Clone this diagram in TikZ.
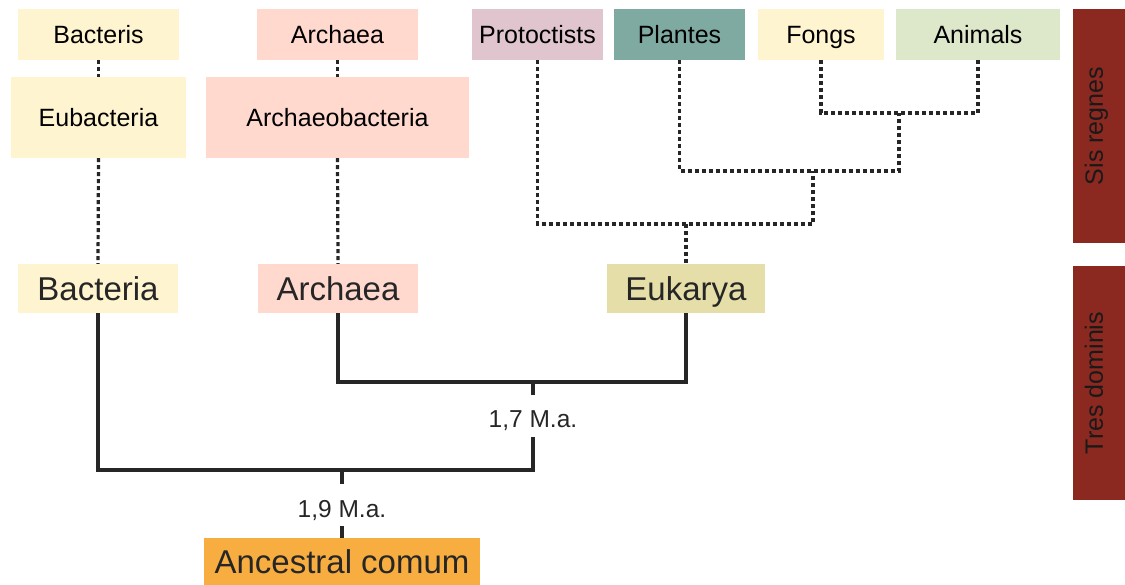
\documentclass[tikz,border=0pt]{standalone}
\usepackage{fontspec}
\setmainfont{Liberation Sans}
\usetikzlibrary{positioning}

\definecolor{bactcol}{HTML}{FFF4D0}
\definecolor{archcol}{HTML}{FFD8CE}
\definecolor{protcol}{HTML}{E0C5CE}
\definecolor{plantcol}{HTML}{7FAAA2}
\definecolor{animcol}{HTML}{DDE7CA}
\definecolor{eukcol}{HTML}{E5DEA8}
\definecolor{anccol}{HTML}{F8AD40}
\definecolor{barcol}{HTML}{8B2820}
\definecolor{linecol}{HTML}{262626}

\tikzset{
  regne/.style={inner sep=0, minimum height=51, text height=18pt, text depth=0pt,
                font=\fontsize{25}{30}\selectfont},
  domini/.style={inner sep=0, minimum height=49, text height=24pt, text depth=0pt,
                 text=black!85, font=\fontsize{33}{40}\selectfont},
  edat/.style={inner sep=0, anchor=base, text height=33pt, text depth=9pt,
               text=black!85, font=\fontsize{24.5}{30}\selectfont},
  barlabel/.style={inner sep=0, rotate=90, text height=17.5pt, text depth=0pt,
                   text=black!90, font=\fontsize{25}{30}\selectfont},
  tree/.style={line width=3.4pt, draw=linecol},
  dots/.style={line width=3.2pt, draw=linecol, dash pattern=on 4pt off 3pt}
}

\begin{document}
\begin{tikzpicture}[x=1pt,y=-1pt]
  \useasboundingbox (0,0) rectangle (1125,585);

  % --- sis regnes
  \node[regne,fill=bactcol,minimum width=161]  (bacteris)    at (98.5,34.5)  {Bacteris};
  \node[regne,fill=archcol,minimum width=161]  (archaeaR)    at (337.5,34.5) {Archaea};
  \node[regne,fill=protcol,minimum width=131]  (protoctists) at (537.5,34.5) {Protoctists};
  \node[regne,fill=plantcol,minimum width=131] (plantes)     at (679.5,34.5) {Plantes};
  \node[regne,fill=bactcol,minimum width=126]  (fongs)       at (821,34.5)   {Fongs};
  \node[regne,fill=animcol,minimum width=164]  (animals)     at (978,34.5)   {Animals};

  \node[regne,fill=bactcol,minimum width=175,minimum height=81] (eubacteria)  at (98.5,117.5)  {Eubacteria};
  \node[regne,fill=archcol,minimum width=263,minimum height=81] (archaeobact) at (337.5,117.5) {Archaeobacteria};

  % --- tres dominis
  \node[domini,fill=bactcol,minimum width=160] (bacteria) at (98,288.5)  {Bacteria};
  \node[domini,fill=archcol,minimum width=160] (archaea)  at (338,288.5) {Archaea};
  \node[domini,fill=eukcol,minimum width=158]  (eukarya)  at (686,288.5) {Eukarya};

  % --- ancestral comum
  \node[domini,fill=anccol,anchor=north,minimum width=276,minimum height=0,
        text height=35pt,text depth=17pt] (ancestral) at (342,538) {Ancestral comum};

  % --- edats
  \node[edat] (m17) at (533,428) {1,7 M.a.};
  \node[edat] (m19) at (342,517) {1,9 M.a.};

  % --- branques puntejades
  \coordinate (jfa) at (899,113);
  \coordinate (jpf) at (813,171);
  \coordinate (jeu) at (686,224);
  \draw[dots] (fongs.south) |- (jfa) -| (animals.south);
  \draw[dots] (plantes.south) |- (jpf) -| (jfa);
  \draw[dots] (protoctists.south) |- (jeu) -| (jpf);
  \draw[dots] (jeu) -- (eukarya.north);
  \draw[dots] (bacteris.south) -- (eubacteria.north);
  \draw[dots] (eubacteria.south) -- (bacteria.north);
  \draw[dots] (archaeaR.south) -- (archaeobact.north);
  \draw[dots] (archaeobact.south) -- (archaea.north);

  % --- branques solides
  \coordinate (j17) at (533,382);
  \coordinate (j19) at (342,470);
  \draw[tree] (archaea.south) |- (j17) -| (eukarya.south);
  \draw[tree] (j17) -- (m17.north);
  \draw[tree] (m17.south) |- (j19) -| (bacteria.south);
  \draw[tree] (j19) -- (m19.north);
  \draw[tree] (m19.south) -- (ancestral.north);

  % --- barres laterals
  \fill[barcol] (1073,9) rectangle (1125,243);
  \fill[barcol] (1073,266) rectangle (1125,500);
  \node[barlabel] (regnes)  at (1094,126) {Sis regnes};
  \node[barlabel] (dominis) at (1094,383) {Tres dominis};
\end{tikzpicture}
\end{document}
